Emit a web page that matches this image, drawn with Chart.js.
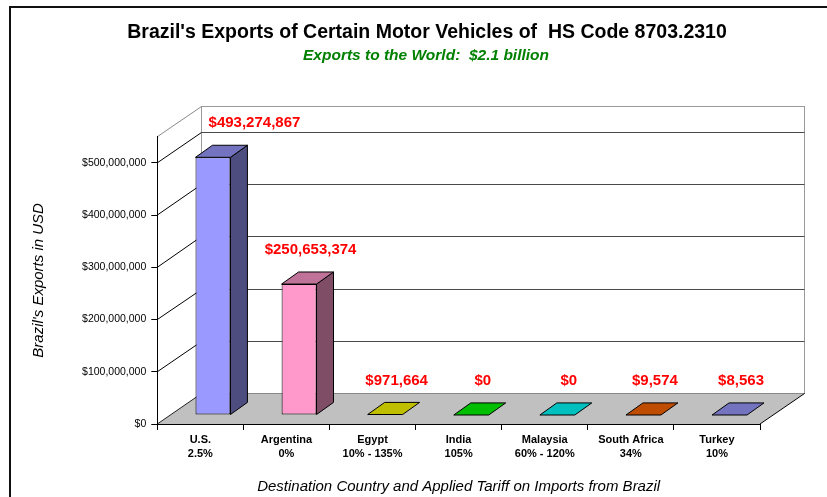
<!DOCTYPE html>
<html>
<head>
<meta charset="utf-8">
<script src="https://cdn.jsdelivr.net/npm/chart.js@4.4.1/dist/chart.umd.min.js"></script>
<style>
  html, body { margin: 0; padding: 0; background: #fff; }
</style>
</head>
<body>
<canvas id="chart" width="827" height="497"></canvas>
<script>
// data
const countries = ["U.S.", "Argentina", "Egypt", "India", "Malaysia", "South Africa", "Turkey"];
const tariffs = ["2.5%", "0%", "10% - 135%", "105%", "60% - 120%", "34%", "10%"];
const exportsUsd = [493274867, 250653374, 971664, 0, 0, 9574, 8563];
const barColors = ["#9999FF", "#FF99CC", "#FFFF00", "#00FF00", "#00FFFF", "#FF6600", "#9999FF"];
const yTicks = [0, 100000000, 200000000, 300000000, 400000000, 500000000];
const yMax = 550000000;

const FONT = "Arial, 'Liberation Sans', sans-serif";

// depth of the 3d box (back wall offset) and where the bars sit inside it
const WALL_DX = 43.5, WALL_DY = 31;
const BAR_FRONT = 0.29, BAR_DEPTH = 0.39;
const US_LABEL_SHIFT = 30; // first label was moved right in the original

function shade(hex, f) {
  const n = parseInt(hex.slice(1), 16);
  const r = Math.round(((n >> 16) & 255) * f);
  const g = Math.round(((n >> 8) & 255) * f);
  const b = Math.round((n & 255) * f);
  return `rgb(${r},${g},${b})`;
}

function line(ctx, x1, y1, x2, y2, color) {
  ctx.strokeStyle = color;
  ctx.beginPath();
  ctx.moveTo(x1, y1);
  ctx.lineTo(x2, y2);
  ctx.stroke();
}

function poly(ctx, pts, fill) {
  ctx.beginPath();
  ctx.moveTo(pts[0][0], pts[0][1]);
  for (let i = 1; i < pts.length; i++) ctx.lineTo(pts[i][0], pts[i][1]);
  ctx.closePath();
  ctx.fillStyle = fill;
  ctx.fill();
  ctx.strokeStyle = "#000";
  ctx.stroke();
}

const box3d = {
  id: "box3d",
  beforeDraw(chart) {
    const ctx = chart.ctx;
    const { left, right, top, bottom } = chart.chartArea;
    const ys = chart.scales.y;
    ctx.save();
    ctx.fillStyle = "#fff";
    ctx.fillRect(0, 0, chart.width, chart.height);

    // outer frame (runs off the right and bottom edge)
    ctx.strokeStyle = "#111";
    ctx.lineWidth = 2;
    ctx.strokeRect(10, 7, chart.width + 20, chart.height + 20);

    ctx.lineWidth = 1;
    const bl = Math.round(left + WALL_DX) + 0.5;
    const br = Math.round(right + WALL_DX) + 0.5;
    const bt = Math.round(top - WALL_DY) + 0.5;
    const bb = Math.round(bottom - WALL_DY) + 0.5;

    // back wall
    ctx.strokeStyle = "#9a9a9a";
    ctx.strokeRect(bl, bt, br - bl, bb - bt);

    // grid lines on back and left wall
    yTicks.forEach((v) => {
      if (v === 0) return;
      const py = ys.getPixelForValue(v);
      const gy = Math.round(py - WALL_DY) + 0.5;
      line(ctx, bl, gy, br, gy, "#4a4a4a");
      line(ctx, left, py, bl, gy, "#000");
    });
    // top edge of left wall
    line(ctx, left, top, bl, bt, "#8a8a8a");

    // floor
    ctx.beginPath();
    ctx.moveTo(left, bottom);
    ctx.lineTo(right, bottom);
    ctx.lineTo(br, bb);
    ctx.lineTo(bl, bb);
    ctx.closePath();
    ctx.fillStyle = "#C0C0C0";
    ctx.fill();
    line(ctx, bl, bb, br, bb, "#8a8a8a");
    line(ctx, left, bottom, bl, bb, "#222");
    line(ctx, right, bottom, br, bb, "#000");

    // titles
    ctx.textAlign = "center";
    ctx.textBaseline = "middle";
    ctx.fillStyle = "#000";
    ctx.font = "bold 19.5px " + FONT;
    ctx.fillText("Brazil's Exports of Certain Motor Vehicles of  HS Code 8703.2310", 427, 33);
    ctx.fillStyle = "#008000";
    ctx.font = "italic bold 15.5px " + FONT;
    ctx.fillText("Exports to the World:  $2.1 billion", 426, 56);
    ctx.restore();
  },
  beforeDatasetsDraw(chart) {
    // front faces are drawn by chart.js, pushed back into the box
    chart.ctx.save();
    chart.ctx.translate(WALL_DX * BAR_FRONT, -WALL_DY * BAR_FRONT);
  },
  afterDatasetsDraw(chart) {
    const ctx = chart.ctx;
    ctx.restore();
    const fx = WALL_DX * BAR_FRONT, fy = WALL_DY * BAR_FRONT;
    const dx = WALL_DX * BAR_DEPTH, dy = WALL_DY * BAR_DEPTH;
    const meta = chart.getDatasetMeta(0);
    ctx.save();
    ctx.lineWidth = 1;
    meta.data.forEach((bar, i) => {
      const { x, y, base, width } = bar.getProps(["x", "y", "base", "width"], true);
      const x0 = x - width / 2 + fx, x1 = x + width / 2 + fx;
      const t = y - fy, b = base - fy;
      const col = barColors[i];
      if (b - t > 0.6) {
        poly(ctx, [[x1, t], [x1 + dx, t - dy], [x1 + dx, b - dy], [x1, b]], shade(col, 0.5));
      }
      poly(ctx, [[x0, t], [x1, t], [x1 + dx, t - dy], [x0 + dx, t - dy]], shade(col, 0.75));

      // value label
      let lx = (x0 + x1) / 2 + dx / 2 + 3;
      if (i === 0) lx += US_LABEL_SHIFT;
      const ly = t - dy / 2 - 28;
      ctx.fillStyle = "#FF0000";
      ctx.font = "bold 15px " + FONT;
      ctx.textAlign = "center";
      ctx.textBaseline = "middle";
      ctx.fillText("$" + exportsUsd[i].toLocaleString("en-US"), lx, ly);
    });
    ctx.restore();
  },
};

Chart.defaults.color = "#000";
Chart.defaults.font.family = FONT;

new Chart(document.getElementById("chart"), {
  type: "bar",
  data: {
    labels: countries.map((c, i) => [c, tariffs[i]]),
    datasets: [
      {
        data: exportsUsd,
        backgroundColor: barColors,
        borderColor: "#000",
        borderWidth: 1,
        borderSkipped: false,
        categoryPercentage: 1,
        barPercentage: 0.406,
      },
    ],
  },
  options: {
    responsive: false,
    animation: false,
    layout: { padding: { left: 10, top: 136.7, right: 67, bottom: 0 } },
    plugins: {
      legend: { display: false },
      tooltip: { enabled: false },
    },
    scales: {
      x: {
        afterFit: (s) => { s.height = 73; },
        grid: { drawOnChartArea: false, tickLength: 6, color: "#000", offset: true },
        border: { color: "#000" },
        ticks: {
          font: { size: 11, weight: "bold", lineHeight: 14 / 11 },
          color: "#000",
          padding: 3,
          maxRotation: 0,
          autoSkip: false,
        },
        title: {
          display: true,
          text: "Destination Country and Applied Tariff on Imports from Brazil",
          font: { size: 15, style: "italic" },
          color: "#000",
          padding: { top: 0, bottom: 1 },
        },
      },
      y: {
        min: 0,
        max: yMax,
        afterBuildTicks: (s) => { s.ticks = yTicks.map((v) => ({ value: v })); },
        afterFit: (s) => { s.width = 147.3; },
        grid: { drawOnChartArea: false, tickLength: 6, color: "#000" },
        border: { color: "#000" },
        ticks: {
          callback: (v) => "$" + Number(v).toLocaleString("en-US"),
          font: { size: 10.5 },
          color: "#000",
          padding: 5,
        },
        title: {
          display: true,
          text: "Brazil's Exports in USD",
          font: { size: 15, style: "italic" },
          color: "#000",
          padding: { top: 20.3, bottom: 0 },
        },
      },
    },
  },
  plugins: [box3d],
});
</script>
</body>
</html>
